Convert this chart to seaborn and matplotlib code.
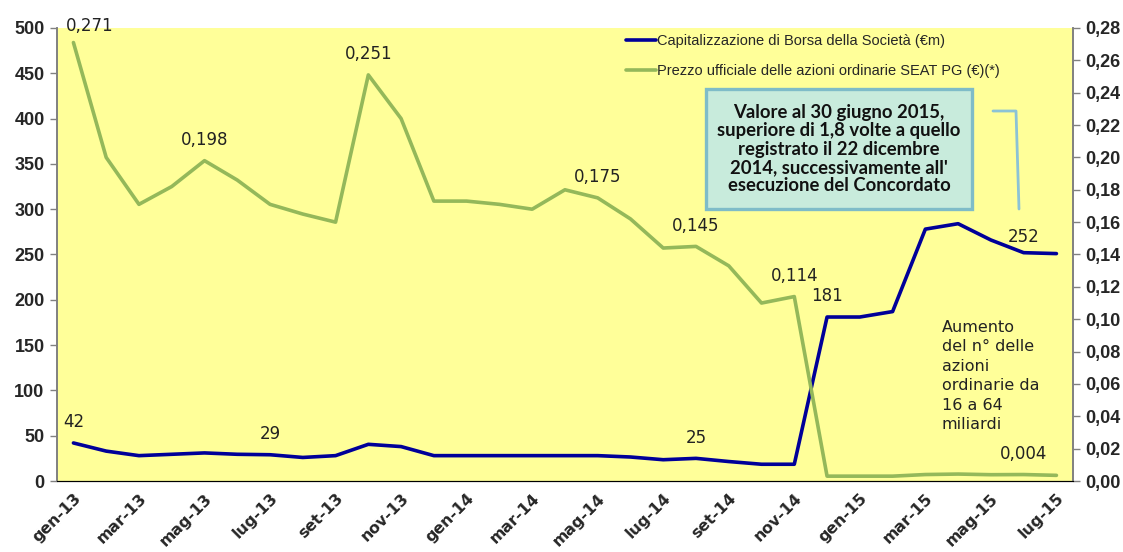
import pandas as pd
import numpy as np
import matplotlib
matplotlib.use('Agg')
import matplotlib.pyplot as plt
import seaborn as sns
from matplotlib.ticker import FixedLocator, FuncFormatter
from matplotlib.patches import Rectangle

# Monthly data, gen-13 .. lug-15
mesi = ['gen', 'feb', 'mar', 'apr', 'mag', 'giu', 'lug', 'ago', 'set', 'ott', 'nov', 'dic']
categories = [f'{m}-{y}' for y in ['13', '14', '15'] for m in mesi][:31]

capitalizzazione = [42, 33, 28, 29.5, 31, 29.5, 29, 26, 28, 40.5, 38, 28,
                    28, 28, 28, 28, 28, 26.5, 23.5, 25, 21.5, 18.5, 18.5,
                    181, 181, 187, 278, 284, 266, 252, 251]

prezzo = [0.271, 0.200, 0.171, 0.182, 0.198, 0.186, 0.171, 0.165, 0.160, 0.251, 0.224, 0.173,
          0.173, 0.171, 0.168, 0.180, 0.175, 0.162, 0.144, 0.145, 0.133, 0.110, 0.114,
          0.003, 0.003, 0.003, 0.004, 0.0043, 0.0039, 0.004, 0.0035]

# which points get a data label
cap_labels = {0: '42', 6: '29', 19: '25', 23: '181', 29: '252'}
prezzo_labels = {0: '0,271', 4: '0,198', 9: '0,251', 16: '0,175', 19: '0,145', 22: '0,114', 29: '0,004'}

legend_cap = 'Capitalizzazione di Borsa della Società (€m)'
legend_prezzo = 'Prezzo ufficiale delle azioni ordinarie SEAT PG (€)(*)'

df = pd.DataFrame({'x': np.arange(len(categories)),
                   'cap': capitalizzazione,
                   'prezzo': prezzo})

BLUE = '#000099'
GREEN = '#94B85A'

sns.set_style('white')
plt.rcParams['font.family'] = ['DejaVu Sans']

fig = plt.figure(figsize=(11.23, 5.52), dpi=100)
ax = fig.add_axes([0.0508, 0.1286, 0.9045, 0.8207])
ax.set_facecolor('#FFFF99')
ax2 = ax.twinx()

sns.lineplot(data=df, x='x', y='cap', ax=ax, color=BLUE, linewidth=2.6, label=legend_cap, legend=False)
sns.lineplot(data=df, x='x', y='prezzo', ax=ax2, color=GREEN, linewidth=2.6, label=legend_prezzo, legend=False)

ax.set_xlim(-0.5, len(categories) - 0.5)
ax.set_ylim(0, 500)
ax2.set_ylim(0, 0.28)

ax.set_yticks(np.arange(0, 501, 50))
ax2.set_yticks(np.arange(0, 0.281, 0.02))
ax2.yaxis.set_major_formatter(FuncFormatter(lambda v, p: f'{v:.2f}'.replace('.', ',')))

# category labels every 2 months, tick marks between categories
ax.set_xticks(df['x'][::2])
ax.set_xticklabels(categories[::2], rotation=45, ha='right', rotation_mode='anchor',
                   fontweight='bold', fontsize=11.3, family='DejaVu Sans')
ax.xaxis.set_minor_locator(FixedLocator(np.arange(-0.5, len(categories), 2)))
ax.tick_params(axis='x', which='major', length=0, pad=7)
ax.tick_params(axis='x', which='minor', length=5, width=1, color='black', direction='out')
ax.tick_params(axis='y', length=5, width=1, color='#808080', direction='out', pad=4)
ax2.tick_params(axis='y', length=5, width=1, color='#808080', direction='out', pad=4)
for lab in ax.get_yticklabels() + ax2.get_yticklabels():
    lab.set_fontweight('bold')
    lab.set_fontsize(13)
    lab.set_family('Liberation Sans')

ax.set_xlabel('')
ax.set_ylabel('')
ax2.set_ylabel('')

for a in (ax, ax2):
    a.spines['top'].set_visible(False)
    a.spines['left'].set_color('#808080')
    a.spines['right'].set_color('#808080')
    a.spines['bottom'].set_color('black')
    a.spines['left'].set_linewidth(1.2)
    a.spines['right'].set_linewidth(1.2)
    a.grid(False)

# data labels
for i, t in cap_labels.items():
    dy = 11 if i == 29 else 15
    ax.annotate(t, (df['x'][i], df['cap'][i]), xytext=(0, dy), textcoords='offset points',
                ha='center', va='center', fontsize=12, color='#222222')
for i, t in prezzo_labels.items():
    dx = 12 if i == 0 else 0
    dy = 12 if i == 0 else 15
    ax2.annotate(t, (df['x'][i], df['prezzo'][i]), xytext=(dx, dy), textcoords='offset points',
                 ha='center', va='center', fontsize=12, color='#222222', annotation_clip=False)

# legend
h1, l1 = ax.get_legend_handles_labels()
h2, l2 = ax2.get_legend_handles_labels()
leg = ax2.legend(h1 + h2, l1 + l2, loc='upper left', bbox_to_anchor=(0.547, 1.016),
                 frameon=False, handlelength=2.05, handletextpad=0.1, labelspacing=1.1,
                 prop={'family': 'Liberation Sans', 'size': 10.5})

# callout box
W, H = 1123, 552
fig.add_artist(Rectangle((706 / W, 1 - 209 / H), 266 / W, 120 / H, transform=fig.transFigure,
                         facecolor='#C8EBDC', edgecolor='#7FBCC8', linewidth=2.4))
fig.text(839 / W, 1 - 149 / H,
         'Valore al 30 giugno 2015,\nsuperiore di 1,8 volte a quello\nregistrato il 22 dicembre\n2014, successivamente all\'\nesecuzione del Concordato',
         ha='center', va='center', fontsize=13.3, fontweight='bold', family='Lato',
         linespacing=1.1, color='#111111')
fig.add_artist(plt.Line2D([993 / W, 1016 / W, 1019 / W],
                          [1 - 111 / H, 1 - 111 / H, 1 - 209 / H],
                          color='#8CC3D6', linewidth=2))

# note on share increase
ax.text(0.871, 0.232, 'Aumento\ndel n° delle\nazioni\nordinarie da\n16 a 64\nmiliardi',
        transform=ax.transAxes, ha='left', va='center', fontsize=11.5, color='#222222',
        linespacing=1.37)

fig.savefig('out.png', dpi=100, facecolor='white')
